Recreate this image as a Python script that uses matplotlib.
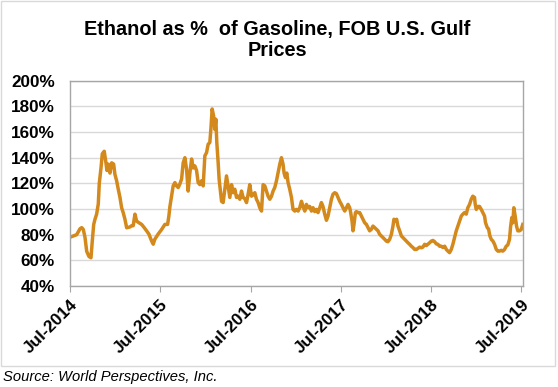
import matplotlib
matplotlib.use("Agg")
import matplotlib.pyplot as plt
from matplotlib.patches import Rectangle

# months since Jul-2014, and ethanol / gasoline price ratio (%)
months = [
    0.00, 0.44, 0.89, 1.33, 1.55, 1.77, 1.99, 2.22, 2.52, 2.79, 2.96, 3.15, 3.32, 3.54, 3.76,
    3.89, 4.12, 4.29, 4.55, 4.74, 4.91, 5.08, 5.31, 5.54, 5.80, 5.97, 6.20, 6.37, 6.64, 6.86,
    7.08, 7.30, 7.53, 7.96, 8.19, 8.40, 8.63, 8.85, 9.16, 9.52, 9.86, 10.18, 10.49, 10.85, 11.06,
    11.28, 11.72, 12.17, 12.61, 12.97, 13.14, 13.28, 13.50, 13.71, 13.94, 14.16, 14.38, 14.60,
    14.83, 15.04, 15.27, 15.49, 15.70, 15.93, 16.16, 16.37, 16.59, 16.82, 17.03, 17.26, 17.48,
    17.70, 17.92, 18.15, 18.36, 18.58, 18.72, 18.89, 19.08, 19.25, 19.38, 19.51, 19.69, 19.82,
    20.01, 20.14, 20.35, 20.58, 20.80, 21.01, 21.24, 21.47, 21.68, 21.90, 22.13, 22.34, 22.57,
    22.79, 23.01, 23.23, 23.46, 23.67, 23.89, 24.12, 24.33, 24.56, 24.78, 25.00, 25.22, 25.45,
    25.66, 25.89, 26.11, 26.32, 26.55, 26.78, 26.99, 27.21, 27.44, 27.65, 27.88, 28.10, 28.31,
    28.45, 28.63, 28.81, 28.98, 29.20, 29.43, 29.64, 29.87, 30.09, 30.31, 30.53, 30.76, 30.97,
    31.20, 31.42, 31.63, 31.86, 32.09, 32.30, 32.52, 32.75, 32.96, 33.19, 33.41, 33.62, 33.85,
    34.08, 34.29, 34.51, 34.74, 34.95, 35.18, 35.40, 35.62, 35.84, 36.07, 36.28, 36.51, 36.73,
    36.95, 37.17, 37.30, 37.48, 37.61, 37.74, 37.93, 38.06, 38.27, 38.50, 38.72, 38.94, 39.16,
    39.39, 39.60, 39.82, 40.05, 40.26, 40.49, 40.71, 40.93, 41.15, 41.38, 41.59, 41.82, 42.04,
    42.25, 42.48, 42.71, 42.92, 43.05, 43.24, 43.41, 43.58, 43.81, 44.04, 44.25, 44.48, 44.70,
    44.91, 45.13, 45.36, 45.57, 45.80, 46.03, 46.24, 46.46, 46.69, 46.90, 47.13, 47.35, 47.56,
    47.79, 48.02, 48.23, 48.46, 48.68, 48.89, 49.12, 49.35, 49.56, 49.79, 50.01, 50.22, 50.44,
    50.67, 50.88, 51.11, 51.33, 51.55, 51.77, 52.00, 52.21, 52.43, 52.66, 52.87, 53.10, 53.32,
    53.53, 53.76, 53.85, 53.99, 54.20, 54.42, 54.65, 54.86, 55.09, 55.22, 55.45, 55.62, 55.80,
    55.98, 56.20, 56.42, 56.65, 56.86, 57.08, 57.31, 57.52, 57.75, 57.97, 58.18, 58.41, 58.54,
    58.71, 58.85, 58.98, 59.16, 59.34, 59.51, 59.74, 59.96, 60.17,
]
ratio = [
    78, 79, 80, 84.6, 85.5, 84, 78, 67, 63, 62, 75, 88, 92, 96, 104,
    120, 132, 143, 145, 137.5, 130, 135, 128, 136, 135, 127, 122, 116.7, 109, 101,
    97, 92, 85.4, 86, 87, 87, 96, 90.6, 89.3, 88, 85.5, 83, 80.4, 75, 72.6,
    76.5, 80.5, 84, 88, 88, 94.5, 102, 110, 118, 120.6, 118, 116.7, 119.5,
    123.4, 136, 140, 131, 114, 128, 139, 132, 133.6, 130, 120.6, 119, 122,
    118, 141.4, 144, 150.5, 151.8, 162, 178, 172.6, 162, 170, 151.8, 136, 123,
    112.7, 106, 105, 115.4, 125.8, 118, 109, 119, 112.7, 115.4, 109, 110, 107.6,
    114, 109, 108, 105, 111.5, 119, 110, 111, 112.7, 107.6, 105, 101, 98.4,
    119, 118, 114, 110, 107.6, 110, 114, 116.7, 122, 128.4, 135, 140, 135,
    128, 124.5, 128, 120.6, 115.4, 109, 99.7, 98.4, 99.7, 98.4, 101, 106, 102,
    98.4, 103.6, 101, 102, 98.4, 101, 98, 99.7, 97.2, 101, 105, 102, 96,
    91.2, 94.5, 101, 107.6, 111.5, 112.7, 112, 109, 106, 103.6, 101, 98.4, 101,
    103.6, 101, 97.2, 90.6, 83, 88, 97.2, 98, 97.2, 97.2, 94.5, 92, 89.3,
    88, 85.5, 83, 84.2, 86.7, 85.5, 84.2, 83, 80.3, 79, 77.7, 76.4, 75,
    74.5, 76.4, 80.3, 86.7, 92, 90.6, 92, 86.7, 83, 79, 77.7, 76.4, 75,
    73.7, 72.5, 71, 70, 68.5, 68.5, 69.3, 70.3, 69.8, 70.3, 72.5, 71.5, 72.5,
    73.7, 75, 75.5, 74.5, 72.8, 72.5, 71, 71, 70, 71, 68.5, 67.2, 66,
    68.5, 72.5, 77.7, 83, 86.7, 90.6, 94.5, 96, 97.2, 96, 101, 103.6, 107.6,
    110, 109, 103.6, 99.7, 102, 102, 99.7, 97.2, 94.5, 89.3, 85.5, 84.5, 79,
    76.4, 75, 72.5, 68.5, 67.2, 67.2, 67.8, 67.2, 68.5, 71, 72, 76.4, 85.5,
    93.3, 89.3, 101, 94.5, 86.7, 83, 83, 84, 88,
]

tick_months = [0, 12, 24, 36, 48, 60]
tick_labels = ["Jul-2014", "Jul-2015", "Jul-2016", "Jul-2017", "Jul-2018", "Jul-2019"]
y_ticks = [40, 60, 80, 100, 120, 140, 160, 180, 200]

plt.rcParams["font.family"] = ["Liberation Sans", "DejaVu Sans"]

fig = plt.figure(figsize=(5.58, 3.87), dpi=100)
ax = fig.add_axes([70 / 558, 1 - 286 / 387, (523 - 70) / 558, (286 - 80.7) / 387])

ax.plot(months, ratio, color="#D4891C", linewidth=2.5, solid_joinstyle="round")

ax.set_xlim(0, 60.2)
ax.set_ylim(40, 200)
ax.set_yticks(y_ticks)
ax.set_yticklabels([f"{v}%" for v in y_ticks], fontsize=12.3, fontweight="bold")
ax.set_xticks(tick_months)
ax.set_xticklabels(tick_labels, fontsize=12.3, fontweight="bold",
                   rotation=45, ha="right", rotation_mode="anchor")

ax.grid(axis="y", color="#D9D9D9", linewidth=1)
ax.set_axisbelow(True)
for sp in ax.spines.values():
    sp.set_color("#A6A6A6")
    sp.set_linewidth(1)
ax.tick_params(axis="y", length=0, pad=11)
ax.tick_params(axis="x", length=4, color="#A6A6A6", pad=4)

fig.text(0.497, 1 - 40 / 387, "Ethanol as %  of Gasoline, FOB U.S. Gulf\nPrices",
         ha="center", va="center", fontsize=14.3, fontweight="bold", linespacing=1.15)
fig.text(3 / 558, 1 - 377 / 387, "Source: World Perspectives, Inc.",
         ha="left", va="center", fontsize=10.6, style="italic")

fig.patches.append(Rectangle((1 / 558, 1 - 366 / 387), 554 / 558, 365 / 387,
                             transform=fig.transFigure, fill=False,
                             edgecolor="#D9D9D9", linewidth=1))

fig.savefig("out.png", dpi=100)
